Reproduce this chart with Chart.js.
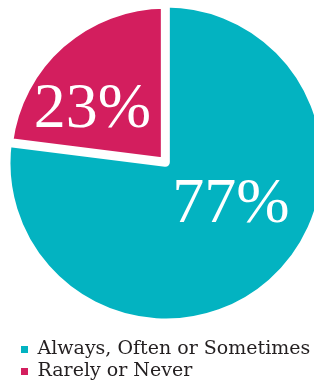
<!DOCTYPE html>
<html lang="en">
<head>
    <meta charset="UTF-8">
    <title>Always, Often or Sometimes vs Rarely or Never</title>
    <script src="https://cdn.jsdelivr.net/npm/chart.js"></script>
    <style>
        body {
            margin: 0;
            background: #ffffff;
            overflow: hidden;
        }
        /* canvas sits a little above the page top so the pie can reach y≈7 */
        #pieChart {
            display: block;
            margin-top: -11px;
        }
    </style>
</head>
<body>
    <canvas id="pieChart" width="314" height="394"></canvas>

    <script>
        // chart data
        const categories = ['Always, Often or Sometimes', 'Rarely or Never'];
        const shares = [77, 23];

        const sliceColors = ['#03b3c1', '#d31e5e'];

        // white percentage text inside each slice, placed in units of the radius
        const sliceLabels = {
            id: 'sliceLabels',
            afterDatasetsDraw(chart, args, opts) {
                const ctx = chart.ctx;
                const meta = chart.getDatasetMeta(0);
                ctx.save();
                ctx.font = opts.font;
                ctx.fillStyle = opts.color;
                ctx.textAlign = 'center';
                ctx.textBaseline = 'alphabetic';
                meta.data.forEach((arc, i) => {
                    const r = arc.outerRadius;
                    const a = opts.anchors[i];
                    ctx.fillText(shares[i] + '%', arc.x + a[0] * r, arc.y + a[1] * r);
                });
                ctx.restore();
            }
        };

        const ctx = document.getElementById('pieChart').getContext('2d');
        const pieChart = new Chart(ctx, {
            type: 'pie',
            data: {
                labels: categories,
                datasets: [{
                    data: shares,
                    backgroundColor: sliceColors,
                    borderColor: '#ffffff',
                    borderWidth: [5, 9],
                    borderJoinStyle: 'round',
                    offset: [0, 4],
                    clip: false
                }]
            },
            plugins: [sliceLabels],
            options: {
                responsive: false,
                animation: false,
                events: [],
                radius: 158,
                layout: {
                    padding: { left: 18, right: 0, top: 0, bottom: -8 }
                },
                plugins: {
                    tooltip: { enabled: false },
                    legend: {
                        position: 'bottom',
                        align: 'start',
                        labels: {
                            boxWidth: 7,
                            boxHeight: 7,
                            padding: 3,
                            color: '#231f20',
                            font: { family: '"DejaVu Serif", serif', size: 19 },
                            generateLabels(chart) {
                                const items = Chart.controllers.pie.overrides.plugins.legend.labels.generateLabels(chart);
                                items.forEach(item => { item.lineWidth = 0; });
                                return items;
                            }
                        }
                    },
                    sliceLabels: {
                        font: '64px "Liberation Serif", serif',
                        color: '#ffffff',
                        anchors: [[0.411, 0.373], [-0.465, -0.228]]
                    }
                }
            }
        });
    </script>
</body>
</html>
